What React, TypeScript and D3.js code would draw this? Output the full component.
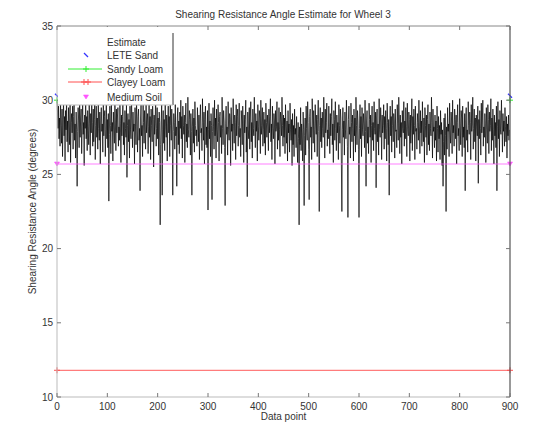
import React from "react";
import * as d3 from "d3";

const W = 541;
const H = 422;

const estimate: number[] = [
  30.0, 29.2, 28.1, 29.6, 27.4, 28.8, 26.9, 29.9, 28.3, 27.1, 29.4, 26.2, 28.7, 29.8, 27.6, 28.9, 25.9, 29.3, 28.0, 30.1, 27.2, 28.6, 26.5, 29.5, 28.4, 27.0, 29.7, 25.8, 28.5, 29.1,
  27.8, 29.6, 26.7, 28.9, 30.2, 27.3, 28.4, 26.1, 29.2, 28.0, 24.2, 27.9, 29.5, 28.6, 26.8, 30.0, 27.5, 28.8, 29.4, 26.4, 28.2, 29.9, 27.7, 28.5, 25.6, 29.0, 28.1, 30.3, 27.4, 28.9,
  26.6, 29.3, 28.2, 27.0, 29.7, 28.4, 26.3, 29.1, 27.8, 30.1, 28.5, 26.9, 29.4, 27.2, 28.7, 29.9, 26.0, 28.3, 29.6, 27.5, 28.8, 26.7, 30.0, 28.1, 27.3, 29.2, 25.7, 28.6, 29.5, 27.9,
  28.4, 26.5, 29.8, 27.6, 28.9, 29.3, 26.2, 28.0, 30.2, 27.4, 28.7, 26.8, 29.1, 23.2, 27.7, 29.6, 28.3, 26.4, 29.9, 27.9, 28.5, 25.9, 29.2, 28.0, 27.1, 30.0, 28.6, 26.6, 29.4, 27.8,
  28.8, 29.5, 26.9, 28.2, 27.3, 29.8, 28.4, 25.8, 29.0, 27.6, 28.9, 30.1, 27.0, 28.5, 26.3, 29.3, 28.1, 27.5, 29.7, 24.8, 28.3, 29.1, 27.2, 28.7, 26.1, 29.6, 28.0, 27.4, 30.2, 28.6,
  26.8, 29.2, 27.9, 28.4, 25.7, 29.5, 28.2, 27.0, 29.9, 28.6, 26.5, 28.9, 29.4, 27.3, 28.1, 23.9, 28.8, 29.7, 27.6, 28.3, 26.2, 30.0, 28.5, 27.1, 29.3, 28.0, 26.7, 29.8, 27.8, 28.6,
  29.1, 26.4, 28.2, 30.1, 27.5, 28.9, 26.0, 29.4, 28.3, 27.2, 29.6, 28.7, 25.5, 29.0, 27.7, 28.4, 30.3, 26.9, 28.1, 29.5, 27.4, 28.8, 26.3, 29.2, 28.5, 21.6, 27.0, 28.6, 29.7, 23.6,
  28.0, 29.3, 27.1, 28.7, 26.6, 29.9, 28.2, 27.5, 29.0, 25.9, 28.4, 29.6, 27.8, 28.9, 26.2, 30.1, 28.3, 27.3, 29.4, 28.0, 23.6, 27.9, 29.1, 28.5, 26.7, 29.7, 27.6, 28.2, 24.2, 28.8,
  29.5, 27.0, 28.6, 26.4, 29.2, 28.1, 30.0, 27.4, 28.9, 26.1, 29.6, 28.3, 27.7, 29.0, 25.8, 28.5, 29.8, 27.2, 28.4, 26.8, 30.2, 28.0, 27.5, 29.3, 28.7, 26.3, 29.1, 27.9, 23.6, 28.2,
  29.4, 27.1, 28.8, 26.5, 29.9, 28.3, 27.6, 28.0, 26.9, 29.5, 28.4, 27.2, 29.0, 26.0, 28.6, 29.7, 27.8, 28.1, 26.6, 30.1, 28.5, 27.3, 29.2, 25.7, 28.7, 29.6, 27.0, 28.2, 26.8, 29.3,
  22.6, 28.0, 29.8, 27.4, 28.6, 26.2, 29.1, 28.3, 23.3, 27.9, 29.5, 28.2, 26.7, 30.0, 27.6, 28.8, 26.1, 29.4, 28.0, 27.2, 29.7, 28.5, 25.9, 28.9, 29.2, 27.5, 28.3, 26.4, 30.2, 28.1,
  27.0, 29.3, 28.6, 26.8, 22.9, 28.4, 29.6, 27.7, 28.2, 26.3, 29.9, 28.0, 27.3, 29.1, 28.7, 25.6, 29.5, 27.9, 28.4, 26.6, 30.1, 28.2, 27.1, 29.0, 28.5, 26.0, 29.7, 27.6, 28.9, 29.4,
  26.9, 28.3, 29.8, 27.5, 28.1, 26.2, 29.3, 28.6, 27.0, 29.6, 28.4, 25.8, 29.0, 27.8, 28.7, 30.0, 26.5, 28.2, 23.5, 29.2, 28.0, 27.4, 29.5, 26.7, 28.8, 29.9, 27.2, 28.5, 26.1, 29.4,
  28.1, 27.6, 30.2, 28.4, 26.8, 29.1, 27.9, 28.6, 25.9, 29.7, 28.2, 27.3, 29.3, 28.8, 26.4, 30.0, 27.7, 28.3, 29.5, 26.9, 28.0, 29.2, 27.1, 28.7, 26.3, 29.8, 28.5, 27.5, 29.0, 28.2,
  26.6, 29.4, 27.8, 28.9, 30.1, 27.2, 28.4, 26.0, 29.6, 28.1, 27.4, 29.1, 28.6, 25.7, 29.3, 27.9, 28.2, 29.9, 26.7, 28.5, 27.3, 29.5, 28.0, 26.2, 29.2, 28.7, 27.6, 30.2, 28.3, 26.9,
  29.0, 27.5, 28.8, 26.4, 29.7, 28.2, 27.1, 28.6, 25.9, 29.3, 27.8, 28.4, 26.5, 29.8, 28.0, 27.3, 28.7, 25.6, 29.1, 27.0, 28.3, 26.2, 29.4, 27.7, 28.1, 26.8, 28.9, 27.2, 25.8, 28.5,
  27.4, 21.6, 28.2, 27.0, 29.5, 26.6, 28.4, 27.8, 25.9, 29.2, 28.0, 22.9, 27.6, 28.8, 26.3, 29.6, 28.1, 27.3, 29.9, 28.5, 26.7, 23.3, 28.9, 29.4, 27.5, 28.2, 26.0, 30.1, 28.6, 27.1,
  29.3, 28.0, 26.5, 29.7, 28.4, 27.7, 29.0, 26.2, 28.7, 30.0, 27.9, 22.5, 28.3, 29.5, 27.2, 28.8, 26.8, 29.2, 28.1, 27.5, 30.2, 28.6, 26.1, 29.4, 27.8, 28.5, 29.8, 26.9, 28.0, 27.4,
  29.6, 28.2, 26.4, 29.1, 27.6, 28.9, 30.1, 27.0, 28.4, 25.8, 29.3, 28.7, 27.3, 29.9, 28.1, 26.6, 29.0, 27.8, 28.5, 26.0, 29.7, 28.3, 27.1, 29.4, 28.8, 25.7, 22.5, 28.0, 29.5, 27.5,
  28.6, 26.3, 29.2, 28.0, 27.4, 30.0, 28.4, 26.9, 22.1, 28.7, 29.6, 27.7, 28.2, 26.1, 29.8, 28.5, 27.2, 29.0, 28.1, 25.9, 29.4, 27.6, 28.8, 26.5, 30.2, 28.3, 27.0, 29.3, 28.6, 26.7,
  22.1, 28.1, 29.7, 27.4, 28.9, 26.2, 29.5, 28.0, 27.6, 29.1, 28.4, 26.8, 30.0, 27.9, 24.2, 28.6, 29.3, 27.1, 28.2, 26.4, 29.8, 28.7, 27.5, 29.0, 25.8, 28.3, 29.6, 27.3, 28.5, 26.6,
  29.9, 28.1, 27.7, 29.2, 24.1, 28.8, 29.4, 27.2, 28.4, 26.3, 30.1, 28.0, 27.5, 29.5, 28.6, 26.0, 29.0, 27.8, 28.3, 29.7, 26.7, 28.9, 27.4, 29.3, 28.1, 25.9, 29.8, 28.5, 27.0, 28.7,
  23.6, 28.2, 29.6, 27.6, 28.9, 26.5, 30.0, 28.3, 27.2, 29.1, 28.6, 26.1, 29.4, 27.9, 28.0, 26.8, 29.7, 28.4, 27.3, 30.2, 28.8, 26.4, 29.0, 27.5, 28.5, 25.7, 29.3, 28.1, 27.8, 29.9,
  26.9, 28.6, 27.4, 29.5, 28.2, 26.2, 29.8, 28.0, 27.6, 29.2, 28.7, 25.9, 29.0, 27.1, 28.4, 30.1, 26.6, 28.9, 27.7, 29.4, 28.3, 26.0, 29.6, 27.9, 28.1, 26.7, 29.1, 28.5, 27.3, 30.0,
  28.2, 26.4, 29.3, 27.8, 28.6, 26.9, 29.9, 28.0, 27.2, 28.8, 25.8, 29.5, 28.3, 27.5, 29.0, 26.3, 28.7, 29.7, 27.0, 28.4, 26.6, 29.2, 28.1, 27.6, 30.2, 28.5, 26.1, 29.4, 27.9, 28.2,
  26.8, 29.0, 27.3, 28.6, 25.9, 29.6, 28.1, 26.5, 28.9, 27.4, 28.3, 26.0, 29.3, 27.7, 28.5, 25.6, 28.0, 24.2, 27.2, 28.8, 26.3, 29.1, 27.6, 22.5, 28.2, 26.7, 29.5, 27.9, 28.4, 26.2,
  29.8, 28.0, 27.1, 29.2, 28.6, 26.4, 30.0, 27.8, 28.3, 26.9, 29.4, 28.7, 27.4, 29.0, 25.7, 28.5, 29.7, 27.6, 28.1, 26.6, 30.1, 28.4, 27.0, 29.3, 28.8, 26.2, 29.6, 27.5, 28.2, 26.8,
  29.1, 23.9, 28.6, 29.5, 27.3, 28.0, 26.5, 29.9, 28.3, 27.7, 29.2, 28.5, 26.0, 29.7, 27.9, 28.4, 30.2, 26.7, 28.1, 29.4, 27.2, 28.8, 25.9, 29.0, 28.2, 27.6, 29.6, 24.4, 28.7, 27.4,
  29.3, 28.1, 26.3, 29.8, 27.8, 28.6, 30.0, 26.9, 28.2, 27.5, 29.1, 28.4, 25.8, 29.5, 28.0, 27.1, 29.7, 28.7, 26.4, 29.2, 27.9, 28.3, 30.1, 26.6, 28.8, 27.3, 29.4, 28.0, 25.7, 29.0,
  27.6, 28.5, 26.8, 29.6, 23.9, 28.2, 29.9, 27.4, 28.7, 26.2, 29.3, 28.0, 27.7, 30.0, 28.4, 26.5, 29.1, 27.9, 28.6, 26.9, 29.5, 28.2, 27.2, 28.9, 26.1, 28.4, 27.6, 29.0, 27.3, 28.0,
];

const referenceNames = ["LETE Sand", "Sandy Loam", "Clayey Loam", "Medium Soil"];
const referenceValues = [30.3, 30.0, 11.8, 25.7];
const referenceColors = ["#3333ff", "#33ee33", "#ff5050", "#ff55ff"];

const xTicks = [0, 100, 200, 300, 400, 500, 600, 700, 800, 900];
const yTicks = [10, 15, 20, 25, 30, 35];

const title = "Shearing Resistance Angle Estimate for Wheel 3";
const xLabel = "Data point";
const yLabel = "Shearing Resistance Angle (degrees)";

export default function App() {
  const left = 57, right = 510, top = 26, bottom = 397;
  const x = d3.scaleLinear().domain([0, 900]).range([left, right]);
  const y = d3.scaleLinear().domain([10, 35]).range([bottom, top]);

  const line = d3
    .line<number>()
    .x((_, i) => x(i))
    .y((d) => y(d));

  const font = "'Liberation Sans', Arial, sans-serif";
  const textColor = "#333";

  const hline = (v: number) => `M${x(0)},${y(v)}H${x(900)}`;

  const plus = (cx: number, cy: number, color: string, k: string) => (
    <path key={k} d={`M${cx - 3},${cy}H${cx + 3}M${cx},${cy - 3}V${cy + 3}`} stroke={color} strokeWidth={1} fill="none" />
  );
  const cross = (cx: number, cy: number, color: string, k: string) => (
    <path key={k} d={`M${cx - 2},${cy - 2}L${cx + 2},${cy + 2}`} stroke={color} strokeWidth={1.2} fill="none" />
  );
  const tri = (cx: number, cy: number, color: string, k: string) => (
    <path key={k} d={`M${cx - 2.5},${cy - 2}H${cx + 2.5}L${cx},${cy + 2}Z`} fill={color} stroke={color} strokeWidth={0.6} />
  );

  const legendX = 58, legendY = 27, legendW = 115, legendH = 78;
  const legendRows = [42, 55, 69, 82, 97];

  return (
    <svg width={W} height={H} style={{ position: "absolute", left: 0, top: 0, background: "#fff" }} fontFamily={font}>
      <rect x={0} y={0} width={W} height={H} fill="#fff" />
      {/* estimate */}
      <path d={line(estimate) || ""} stroke="#000" strokeWidth={0.7} fill="none" strokeLinejoin="miter" />
      {/* medium soil and clayey loam */}
      <path d={hline(referenceValues[3])} stroke={referenceColors[3]} strokeWidth={1.2} fill="none" opacity={0.75} />
      <path d={hline(referenceValues[2])} stroke={referenceColors[2]} strokeWidth={1.2} fill="none" opacity={0.75} />
      {/* endpoint markers */}
      {[0, 900].map((v, i) => (
        <g key={"m" + i}>
          {cross(x(v), y(referenceValues[0]), referenceColors[0], "a")}
          {plus(x(v), y(referenceValues[1]), referenceColors[1], "b")}
          {plus(x(v), y(referenceValues[2]), referenceColors[2], "c")}
          {tri(x(v), y(referenceValues[3]), referenceColors[3], "d")}
        </g>
      ))}

      {/* axes box */}
      <line x1={left} y1={top} x2={left} y2={bottom} stroke="#bbb" strokeWidth={1} />
      <line x1={left} y1={bottom} x2={right} y2={bottom} stroke="#bbb" strokeWidth={1} />
      <line x1={left} y1={top} x2={right} y2={top} stroke="#888" strokeWidth={1} />
      <line x1={right} y1={top} x2={right} y2={bottom} stroke="#555" strokeWidth={1.2} />

      {xTicks.map((t) => (
        <g key={"xt" + t}>
          <line x1={x(t)} x2={x(t)} y1={bottom} y2={bottom - 4} stroke="#777" />
          <line x1={x(t)} x2={x(t)} y1={top} y2={top + 4} stroke="#777" />
          <text x={x(t)} y={bottom + 13} fontSize={10} textAnchor="middle" fill={textColor}>
            {t}
          </text>
        </g>
      ))}
      {yTicks.map((t) => (
        <g key={"yt" + t}>
          <line x1={left} x2={left + 4} y1={y(t)} y2={y(t)} stroke="#777" />
          <line x1={right} x2={right - 4} y1={y(t)} y2={y(t)} stroke="#777" />
          <text x={left - 4} y={y(t) + 3.5} fontSize={10} textAnchor="end" fill={textColor}>
            {t}
          </text>
        </g>
      ))}

      {/* legend */}
      <rect x={legendX} y={legendY} width={legendW} height={legendH} fill="#fff" stroke="none" />
      <line x1={legendX + legendW} y1={legendY + 6} x2={legendX + legendW} y2={legendY + legendH} stroke="#333" />
      <line x1={legendX} y1={legendY + legendH} x2={legendX + legendW} y2={legendY + legendH} stroke="#bbb" />
      <text x={107} y={legendRows[0] + 3.5} fontSize={10} fill={textColor}>Estimate</text>
      {referenceNames.map((n, i) => {
        const cy = legendRows[i + 1];
        const c = referenceColors[i];
        return (
          <g key={n}>
            {i === 1 || i === 2 ? (
              <line x1={68} x2={102} y1={cy} y2={cy} stroke={c} strokeWidth={1} />
            ) : null}
            {i === 0 && cross(86, cy, c, "l")}
            {i === 1 && plus(86, cy, c, "l")}
            {i === 2 && (
              <g>
                {plus(84, cy, c, "l1")}
                {plus(88, cy, c, "l2")}
              </g>
            )}
            {i === 3 && tri(86, cy, c, "l")}
            <text x={107} y={cy + 3.5} fontSize={10} fill={textColor}>
              {n}
            </text>
          </g>
        );
      })}

      <text x={283} y={18} fontSize={10} textAnchor="middle" fill={textColor}>
        {title}
      </text>
      <text x={(left + right) / 2} y={420} fontSize={10} textAnchor="middle" fill={textColor}>
        {xLabel}
      </text>
      <text
        transform={`translate(36,${(top + bottom) / 2}) rotate(-90)`}
        fontSize={10}
        textAnchor="middle"
        fill={textColor}
      >
        {yLabel}
      </text>
    </svg>
  );
}
